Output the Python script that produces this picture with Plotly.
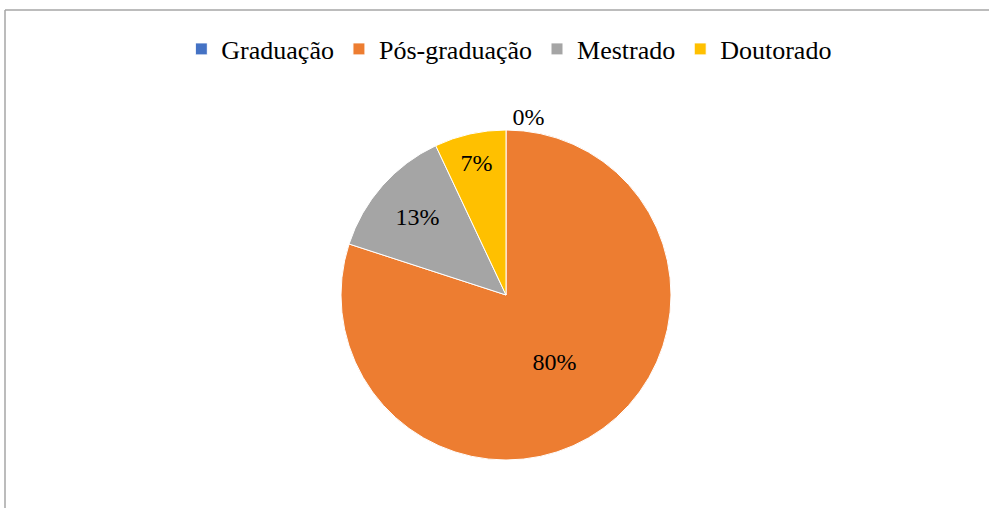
import plotly.graph_objects as go

categories = ["Graduação", "Pós-graduação", "Mestrado", "Doutorado"]
values = [0, 80, 13, 7]
colors = ["#4472C4", "#ED7D31", "#A5A5A5", "#FFC000"]

W, H = 989, 508
cx, cy, r = 506, 295, 165
SERIF = "Liberation Serif"

fig = go.Figure(go.Pie(
    labels=categories,
    values=values,
    sort=False,
    direction="clockwise",
    rotation=0,
    marker=dict(colors=colors, line=dict(color="white", width=1)),
    texttemplate="%{percent:.0%}",
    textposition=["outside", "inside", "inside", "inside"],
    insidetextorientation="horizontal",
    textfont=dict(family=SERIF, size=24, color="black"),
    hole=0,
    domain=dict(x=[(cx - r) / W, (cx + r) / W], y=[(H - cy - r) / H, (H - cy + r) / H]),
    automargin=False,
    showlegend=True,
))

fig.update_layout(
    width=W, height=H,
    margin=dict(l=0, r=0, t=0, b=0),
    paper_bgcolor="white",
    font=dict(family=SERIF, size=26),
    legend=dict(
        orientation="h",
        x=0.515, xanchor="center",
        y=1 - 49 / H, yanchor="middle",
        font=dict(family=SERIF, size=26),
    ),
    shapes=[
        dict(type="line", xref="paper", yref="paper",
             x0=5 / W, x1=1, y0=1 - 10 / H, y1=1 - 10 / H,
             line=dict(color="#A6A6A6", width=1.5)),
        dict(type="line", xref="paper", yref="paper",
             x0=5 / W, x1=5 / W, y0=0, y1=1 - 10 / H,
             line=dict(color="#A6A6A6", width=1.5)),
    ],
)

post = (
    "document.body.style.margin='0px';"
    "document.body.style.overflow='hidden';"
    "document.querySelectorAll('text').forEach(function(t){"
    "t.style.fontFamily='\"Liberation Serif\", \"Times New Roman\", serif';"
    "t.style.fill='rgb(0,0,0)';});"
)

fig.write_html("out.html", config={"displayModeBar": False}, post_script=post)
